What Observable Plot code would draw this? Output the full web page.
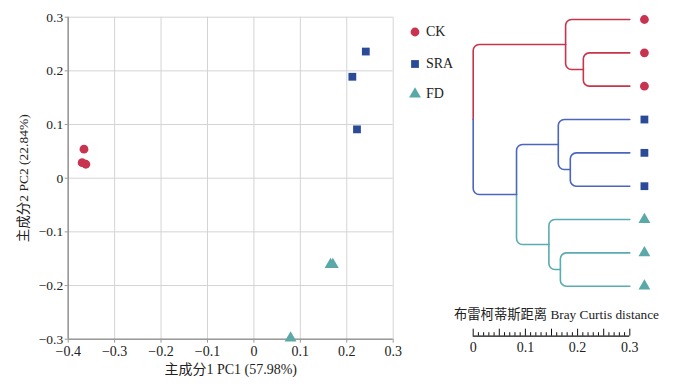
<!DOCTYPE html>
<html>
<head>
<meta charset="utf-8">
<script src="https://cdn.jsdelivr.net/npm/d3@7"></script>
<script src="https://cdn.jsdelivr.net/npm/@observablehq/plot@0.6"></script>
<style>
  html, body { margin: 0; padding: 0; background: #fff; }
  #wrap { position: relative; width: 675px; height: 384px; overflow: hidden;
          font-family: "Liberation Serif", "Noto Sans CJK SC", serif; }
  #wrap svg { position: absolute; top: 0; overflow: visible; background: transparent !important; }
  #wrap svg, #wrap svg text { font-family: "Liberation Serif", "Noto Sans CJK SC", serif !important; }
  .leg { position: absolute; left: 408px; font-size: 14px; color: #222; display: flex; align-items: center; }
  .leg svg { position: static !important; margin-right: 4px; }
</style>
</head>
<body>
<div id="wrap"></div>
<script>
// ---------- data ----------
const groups = ["CK", "SRA", "FD"];
const groupColors = ["#c8334f", "#2b4b99", "#5ba8a8"];
const lineColors = ["#c8344c", "#4b66bf", "#5aabb2"];
const groupSymbols = ["circle", "square", "triangle"];

const sampleGroup = ["CK", "CK", "CK", "SRA", "SRA", "SRA", "FD", "FD", "FD"];
const pc1 = [-0.366, -0.370, -0.362, 0.241, 0.212, 0.222, 0.165, 0.170, 0.079];
const pc2 = [0.054, 0.029, 0.026, 0.236, 0.189, 0.091, -0.161, -0.161, -0.298];

const xTicks = [-0.4, -0.3, -0.2, -0.1, 0, 0.1, 0.2, 0.3];
const yTicks = [-0.3, -0.2, -0.1, 0, 0.1, 0.2, 0.3];

// dendrogram: leaves in display order, internal nodes with height (Bray Curtis distance scale)
const leafNames = ["CK1", "CK2", "CK3", "SRA1", "SRA2", "SRA3", "FD1", "FD2", "FD3"];
const leafGroup = ["CK", "CK", "CK", "SRA", "SRA", "SRA", "FD", "FD", "FD"];
const leafHeight = 0.3;
const nodeNames = ["CKsub", "CKnode", "SRAsub", "SRAnode", "FDsub", "FDnode", "BT", "root"];
const nodeHeights = [0.211, 0.177, 0.186, 0.163, 0.167, 0.145, 0.083, 0.0];
const nodeChildren = [["CK2", "CK3"], ["CK1", "CKsub"], ["SRA2", "SRA3"], ["SRA1", "SRAsub"],
                      ["FD2", "FD3"], ["FD1", "FDsub"], ["SRAnode", "FDnode"], ["CKnode", "BT"]];
const nodeGroup = ["CK", "CK", "SRA", "SRA", "FD", "FD", "SRA", null];
const distTicks = [0, 0.1, 0.2, 0.3];
const distTitle = "布雷柯蒂斯距离 Bray Curtis distance";

// ---------- build ----------
const FONT = "Liberation Serif, Noto Sans CJK SC, serif";
const fmt = d => d === 0 ? "0" : d3.format(".1f")(d);
const wrap = document.getElementById("wrap");
const samples = pc1.map((x, i) => ({x, y: pc2[i], g: sampleGroup[i]}));

const scatter = Plot.plot({
  width: 410, height: 384,
  marginLeft: 67.7, marginRight: 17.3, marginTop: 16.7, marginBottom: 45.3,
  style: {fontFamily: FONT, fontSize: "14px", color: "#222", background: "transparent"},
  x: {domain: [-0.4, 0.3]},
  y: {domain: [-0.3, 0.3]},
  color: {domain: groups, range: groupColors},
  symbol: {domain: groups, range: groupSymbols},
  marks: [
    Plot.gridX(xTicks, {stroke: "#d4d4d4", strokeOpacity: 1, strokeWidth: 1}),
    Plot.gridY(yTicks, {stroke: "#d4d4d4", strokeOpacity: 1, strokeWidth: 1}),
    Plot.ruleX([-0.4], {stroke: "#9a9a9a", strokeWidth: 1.6}),
    Plot.ruleY([-0.3], {stroke: "#9a9a9a", strokeWidth: 1.6}),
    Plot.axisX(xTicks, {tickSize: 4, tickPadding: 3, stroke: "#9a9a9a", fill: "#222", tickFormat: fmt,
      label: "主成分1 PC1 (57.98%)", labelAnchor: "center", labelArrow: "none", labelOffset: 35, fontSize: 14}),
    Plot.axisY(yTicks, {tickSize: 3, tickPadding: 2, stroke: "#9a9a9a", fill: "#222", tickFormat: fmt,
      label: "主成分2 PC2 (22.84%)", labelAnchor: "center", labelArrow: "none", labelOffset: 50, fontSize: 13.5}),
    Plot.dot(samples, {x: "x", y: "y", fill: "g", symbol: "g", r: 4.4, stroke: "none"})
  ]
});
scatter.style.left = "0px";
wrap.appendChild(scatter);

// dendrogram geometry from tree
const pos = new Map();
leafNames.forEach((n, i) => pos.set(n, {d: leafHeight, y: i, g: leafGroup[i]}));
nodeNames.forEach((n, i) => {
  const ys = nodeChildren[i].map(c => pos.get(c).y);
  pos.set(n, {d: nodeHeights[i], y: d3.mean(ys), g: nodeGroup[i]});
});
const colorOf = g => lineColors[groups.indexOf(g)];
const linkPts = [];
nodeNames.forEach((n, i) => {
  const p = pos.get(n);
  nodeChildren[i].forEach(c => {
    const q = pos.get(c);
    const id = n + "-" + c, col = colorOf(q.g);
    linkPts.push({id, x: p.d, y: p.y, c: col});
    linkPts.push({id, x: p.d, y: q.y, c: col});
    linkPts.push({id, x: q.d, y: q.y, c: col});
  });
});

// rounded elbow curve
function roundedCurve(r) {
  return function(context) {
    let pts = [];
    return {
      areaStart() {}, areaEnd() {},
      lineStart() { pts = []; },
      point(x, y) { pts.push([x, y]); },
      lineEnd() {
        if (!pts.length) return;
        context.moveTo(pts[0][0], pts[0][1]);
        for (let i = 1; i < pts.length - 1; i++) {
          const a = pts[i - 1], b = pts[i], c = pts[i + 1];
          const l1 = Math.hypot(b[0] - a[0], b[1] - a[1]);
          const l2 = Math.hypot(c[0] - b[0], c[1] - b[1]);
          const rr = Math.min(r, l1, l2);
          if (rr < 0.5) context.lineTo(b[0], b[1]);
          else context.arcTo(b[0], b[1], c[0], c[1], rr);
        }
        const e = pts[pts.length - 1];
        context.lineTo(e[0], e[1]);
      }
    };
  };
}

const leaves = leafNames.map((n, i) => ({x: 0.328, y: i, g: leafGroup[i]}));
const yBar = 9.5;
const pxPerUnit = (335.7 - 19) / yBar;
const minor = d3.range(0, 31).map(k => k / 100);

const dendro = Plot.plot({
  width: 275, height: 384,
  marginLeft: 72.7, marginRight: 45.7, marginTop: 19, marginBottom: 48.3,
  style: {fontFamily: FONT, fontSize: "14px", color: "#222", background: "transparent", overflow: "visible"},
  x: {domain: [0, 0.3], axis: null},
  y: {domain: [0, yBar], axis: null, reverse: true},
  color: {domain: groups, range: groupColors},
  symbol: {domain: groups, range: groupSymbols},
  marks: [
    Plot.line(linkPts, {x: "x", y: "y", z: "id", stroke: d => d.c, strokeWidth: 1.6,
      curve: roundedCurve(6)}),
    Plot.dot(leaves, {x: "x", y: "y", fill: "g", symbol: "g", r: 4.4, stroke: "none"}),
    Plot.ruleY([yBar], {x1: 0, x2: 0.3, stroke: "#111", strokeWidth: 1.2}),
    Plot.ruleX(minor, {x: d => d, y1: yBar,
      y2: d => yBar - (Math.round(d * 100) % 5 === 0 ? 7 : 3.5) / pxPerUnit,
      stroke: "#111", strokeWidth: 1}),
    Plot.text(distTicks, {x: d => d, y: yBar, dy: 11, text: fmt,
      fill: "#222", fontSize: 14, lineAnchor: "middle"}),
    Plot.text([distTitle], {frameAnchor: "bottom", dx: 5, dy: -17, fill: "#222", fontSize: 13.3})
  ]
});
dendro.style.left = "400px";
wrap.appendChild(dendro);

// legend
const legendTop = [32, 64, 94];
groups.forEach((g, i) => {
  const div = document.createElement("div");
  div.className = "leg";
  div.style.top = (legendTop[i] - 9) + "px";
  const s = d3.create("svg").attr("width", 14).attr("height", 18);
  s.append("path")
    .attr("transform", "translate(7,9)")
    .attr("d", d3.symbol(groupSymbols[i] === "circle" ? d3.symbolCircle :
                         groupSymbols[i] === "square" ? d3.symbolSquare : d3.symbolTriangle,
                         Math.PI * 4.4 * 4.4)())
    .attr("fill", groupColors[i]);
  div.appendChild(s.node());
  const t = document.createElement("span");
  t.textContent = g;
  div.appendChild(t);
  wrap.appendChild(div);
});
</script>
</body>
</html>
